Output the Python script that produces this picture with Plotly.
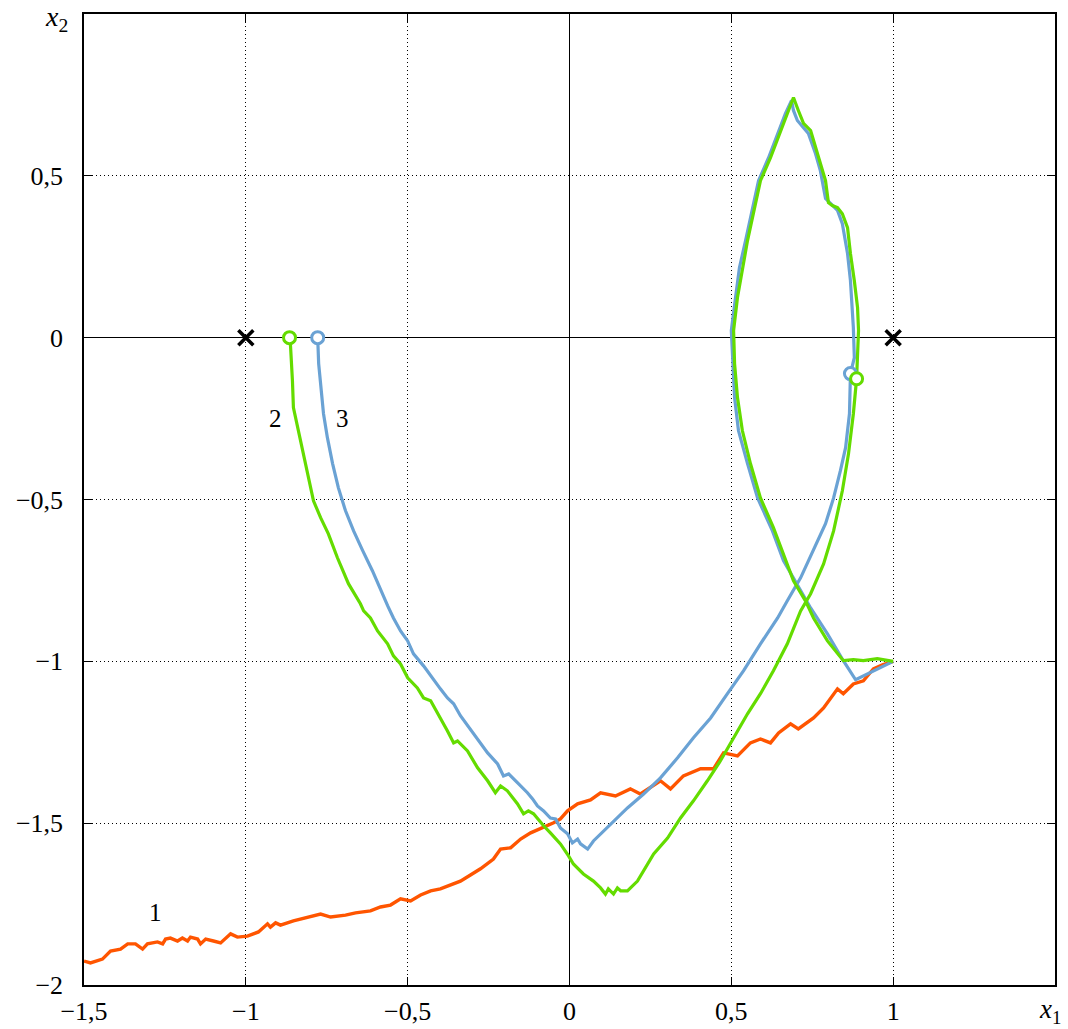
import plotly.graph_objects as go

# Curve 1 (orange)
x1 = [-1.5, -1.480, -1.443, -1.418, -1.387, -1.365, -1.341, -1.319, -1.304, -1.273, -1.257, -1.248, -1.233,
      -1.211, -1.196, -1.180, -1.171, -1.149, -1.140, -1.124, -1.100, -1.078, -1.047, -1.026, -0.995, -0.961,
      -0.933, -0.924, -0.908, -0.893, -0.853, -0.831, -0.800, -0.769, -0.738, -0.692, -0.661, -0.615, -0.584,
      -0.553, -0.522, -0.491, -0.460, -0.429, -0.399, -0.368, -0.337, -0.306, -0.275, -0.235, -0.213, -0.182,
      -0.151, -0.120, -0.083, -0.049, -0.028, -0.006, 0.025, 0.065, 0.096, 0.142, 0.188, 0.219, 0.281, 0.312,
      0.352, 0.405, 0.445, 0.476, 0.519, 0.559, 0.590, 0.621, 0.646, 0.683, 0.707, 0.754, 0.785, 0.828, 0.846,
      0.877, 0.908, 0.939, 0.967, 1.0]
y1 = [-1.926, -1.932, -1.920, -1.895, -1.889, -1.873, -1.873, -1.889, -1.873, -1.867, -1.873, -1.858, -1.855,
      -1.864, -1.855, -1.864, -1.852, -1.858, -1.873, -1.858, -1.864, -1.870, -1.842, -1.852, -1.849, -1.836,
      -1.811, -1.821, -1.808, -1.815, -1.802, -1.796, -1.787, -1.781, -1.790, -1.784, -1.777, -1.771, -1.759,
      -1.753, -1.734, -1.740, -1.722, -1.709, -1.703, -1.691, -1.679, -1.660, -1.641, -1.611, -1.580, -1.576,
      -1.549, -1.530, -1.515, -1.499, -1.487, -1.462, -1.440, -1.428, -1.406, -1.416, -1.394, -1.410, -1.369,
      -1.394, -1.354, -1.332, -1.332, -1.283, -1.292, -1.252, -1.240, -1.252, -1.221, -1.193, -1.209, -1.175,
      -1.144, -1.085, -1.100, -1.070, -1.060, -1.023, -1.011, -1.0]

# Curve 2 (green)
x2 = [1.0, 0.951, 0.908, 0.877, 0.846, 0.797, 0.754, 0.729, 0.692, 0.673, 0.652, 0.630, 0.590, 0.559, 0.534,
      0.519, 0.510, 0.507, 0.519, 0.534, 0.550, 0.568, 0.590, 0.621, 0.652, 0.673, 0.692, 0.707, 0.723, 0.745,
      0.760, 0.775, 0.791, 0.800, 0.812, 0.828, 0.843, 0.859, 0.868, 0.880, 0.890, 0.893, 0.890, 0.887, 0.877,
      0.862, 0.843, 0.816, 0.785, 0.745, 0.714, 0.673, 0.630, 0.590, 0.550, 0.507, 0.466, 0.426, 0.383, 0.343,
      0.303, 0.260, 0.210, 0.179, 0.158, 0.148, 0.136, 0.120, 0.111, 0.096, 0.074, 0.043, 0.012, -0.003, -0.028,
      -0.059, -0.080, -0.111, -0.127, -0.142, -0.161, -0.192, -0.213, -0.229, -0.253, -0.284, -0.315, -0.346,
      -0.358, -0.377, -0.408, -0.429, -0.451, -0.470, -0.500, -0.522, -0.544, -0.562, -0.593, -0.615, -0.636,
      -0.646, -0.683, -0.717, -0.745, -0.769, -0.791, -0.809, -0.825, -0.840, -0.853, -0.856, -0.859, -0.862,
      -0.865]
y2 = [-1.0, -0.992, -0.998, -0.995, -0.998, -0.937, -0.866, -0.813, -0.751, -0.699, -0.643, -0.587, -0.495,
      -0.389, -0.287, -0.185, -0.080, 0.022, 0.124, 0.216, 0.300, 0.383, 0.485, 0.556, 0.640, 0.692, 0.742,
      0.702, 0.662, 0.640, 0.587, 0.538, 0.485, 0.417, 0.408, 0.402, 0.383, 0.340, 0.260, 0.176, 0.093, 0.022,
      -0.062, -0.127, -0.235, -0.359, -0.473, -0.597, -0.699, -0.791, -0.844, -0.946, -1.029, -1.100, -1.162,
      -1.236, -1.308, -1.369, -1.431, -1.484, -1.546, -1.595, -1.679, -1.709, -1.709, -1.700, -1.719, -1.703,
      -1.719, -1.700, -1.679, -1.657, -1.626, -1.601, -1.564, -1.530, -1.508, -1.471, -1.462, -1.471, -1.440,
      -1.400, -1.385, -1.406, -1.369, -1.329, -1.277, -1.246, -1.252, -1.215, -1.162, -1.122, -1.113, -1.082,
      -1.051, -1.008, -0.983, -0.946, -0.906, -0.866, -0.844, -0.822, -0.760, -0.680, -0.606, -0.556, -0.504,
      -0.420, -0.340, -0.278, -0.216, -0.133, -0.062, -0.025, 0.0]

# Curve 3 (blue)
x3 = [1.0, 0.961, 0.921, 0.884, 0.846, 0.797, 0.745, 0.714, 0.683, 0.661, 0.627, 0.581, 0.550, 0.522, 0.510,
      0.504, 0.500, 0.513, 0.525, 0.544, 0.562, 0.584, 0.615, 0.646, 0.667, 0.686, 0.692, 0.704, 0.723, 0.738,
      0.760, 0.775, 0.791, 0.806, 0.828, 0.843, 0.859, 0.868, 0.874, 0.877, 0.880, 0.868, 0.865, 0.853, 0.837,
      0.816, 0.791, 0.754, 0.714, 0.673, 0.643, 0.590, 0.538, 0.488, 0.436, 0.383, 0.334, 0.281, 0.229, 0.179,
      0.127, 0.074, 0.056, 0.034, 0.025, 0.009, -0.006, -0.028, -0.043, -0.059, -0.080, -0.099, -0.114, -0.130,
      -0.161, -0.188, -0.204, -0.222, -0.253, -0.281, -0.297, -0.315, -0.337, -0.358, -0.377, -0.399, -0.423,
      -0.451, -0.482, -0.500, -0.522, -0.544, -0.562, -0.609, -0.639, -0.667, -0.692, -0.714, -0.732, -0.748,
      -0.760, -0.766, -0.775, -0.778]
y3 = [-1.0, -1.020, -1.039, -1.057, -0.998, -0.915, -0.835, -0.782, -0.730, -0.689, -0.597, -0.495, -0.389,
      -0.287, -0.185, -0.080, 0.022, 0.124, 0.216, 0.300, 0.383, 0.485, 0.556, 0.640, 0.692, 0.733, 0.702,
      0.671, 0.649, 0.631, 0.569, 0.516, 0.430, 0.414, 0.393, 0.352, 0.260, 0.176, 0.093, 0.031, -0.062,
      -0.111, -0.235, -0.340, -0.411, -0.495, -0.575, -0.658, -0.742, -0.813, -0.866, -0.946, -1.029, -1.100,
      -1.175, -1.236, -1.298, -1.360, -1.410, -1.453, -1.502, -1.555, -1.580, -1.564, -1.549, -1.561, -1.533,
      -1.515, -1.487, -1.484, -1.462, -1.447, -1.425, -1.406, -1.375, -1.348, -1.354, -1.317, -1.283, -1.246,
      -1.221, -1.199, -1.168, -1.131, -1.113, -1.085, -1.051, -1.014, -0.977, -0.937, -0.906, -0.866, -0.828,
      -0.720, -0.658, -0.597, -0.535, -0.464, -0.389, -0.309, -0.235, -0.164, -0.080, 0.0]

# Markers
circ2_x = [-0.865, 0.887]
circ2_y = [0.0, -0.127]
circ3_x = [-0.778, 0.868]
circ3_y = [0.0, -0.111]
eq_x = [-1.0, 1.0]
eq_y = [0.0, 0.0]

# Labels
lab_text = ["1", "2", "3"]
lab_x = [-1.279, -0.908, -0.701]
lab_y = [-1.777, -0.250, -0.250]

xticks = [-1.5, -1, -0.5, 0, 0.5, 1]
xtick_text = ["\u22121,5", "\u22121", "\u22120,5", "0", "0,5", "1"]
yticks = [-2, -1.5, -1, -0.5, 0, 0.5]
ytick_text = ["\u22122", "\u22121,5", "\u22121", "\u22120,5", "0", "0,5"]

ORANGE = "#ff5500"
GREEN = "#64dc00"
BLUE = "#6aa2d4"
FONT = "Liberation Serif, Times New Roman, DejaVu Serif, serif"

fig = go.Figure()
fig.add_trace(go.Scatter(x=x1, y=y1, mode="lines", line=dict(color=ORANGE, width=3.4), showlegend=False))
fig.add_trace(go.Scatter(x=x3, y=y3, mode="lines", line=dict(color=BLUE, width=3.2), showlegend=False))
fig.add_trace(go.Scatter(x=x2, y=y2, mode="lines", line=dict(color=GREEN, width=3.2), showlegend=False))
fig.add_trace(go.Scatter(x=circ3_x, y=circ3_y, mode="markers",
                         marker=dict(symbol="circle", size=12, color="white", line=dict(color=BLUE, width=3)),
                         showlegend=False))
fig.add_trace(go.Scatter(x=circ2_x, y=circ2_y, mode="markers",
                         marker=dict(symbol="circle", size=12, color="white", line=dict(color=GREEN, width=3)),
                         showlegend=False))
fig.add_trace(go.Scatter(x=eq_x, y=eq_y, mode="markers",
                         marker=dict(symbol="x-thin", size=15, color="black", line=dict(color="black", width=3.5)),
                         showlegend=False))

for t, xx, yy in zip(lab_text, lab_x, lab_y):
    fig.add_annotation(x=xx, y=yy, text=t, showarrow=False, font=dict(family=FONT, size=25, color="black"))

fig.add_annotation(xref="paper", yref="paper", x=1.0, y=0, yshift=-26, xshift=8, xanchor="right",
                   yanchor="middle", text="<i>x</i><sub>1</sub>", showarrow=False,
                   font=dict(family=FONT, size=27, color="black"))
fig.add_annotation(xref="paper", yref="paper", x=0, y=1.0, xshift=-14, yshift=-4, xanchor="right",
                   yanchor="middle", text="<i>x</i><sub>2</sub>", showarrow=False,
                   font=dict(family=FONT, size=28, color="black"))

axis_common = dict(showgrid=True, gridcolor="black", gridwidth=1, griddash="1px,3px",
                   zeroline=True, zerolinecolor="black", zerolinewidth=1.3,
                   showline=True, linecolor="black", linewidth=1.5, mirror="ticks",
                   ticks="inside", ticklen=8, tickwidth=1.2, tickcolor="black", automargin=False,
                   tickfont=dict(family=FONT, size=26, color="black"))

fig.update_xaxes(range=[-1.5, 1.5], tickvals=xticks, ticktext=xtick_text, ticklabelstandoff=2, **axis_common)
fig.update_yaxes(range=[-2, 1], tickvals=yticks, ticktext=ytick_text, ticklabelstandoff=14, **axis_common)

fig.update_layout(width=1068, height=1029, margin=dict(l=84, r=13, t=14, b=44, autoexpand=False),
                  plot_bgcolor="white", paper_bgcolor="white")

fig.write_html("out.html")
